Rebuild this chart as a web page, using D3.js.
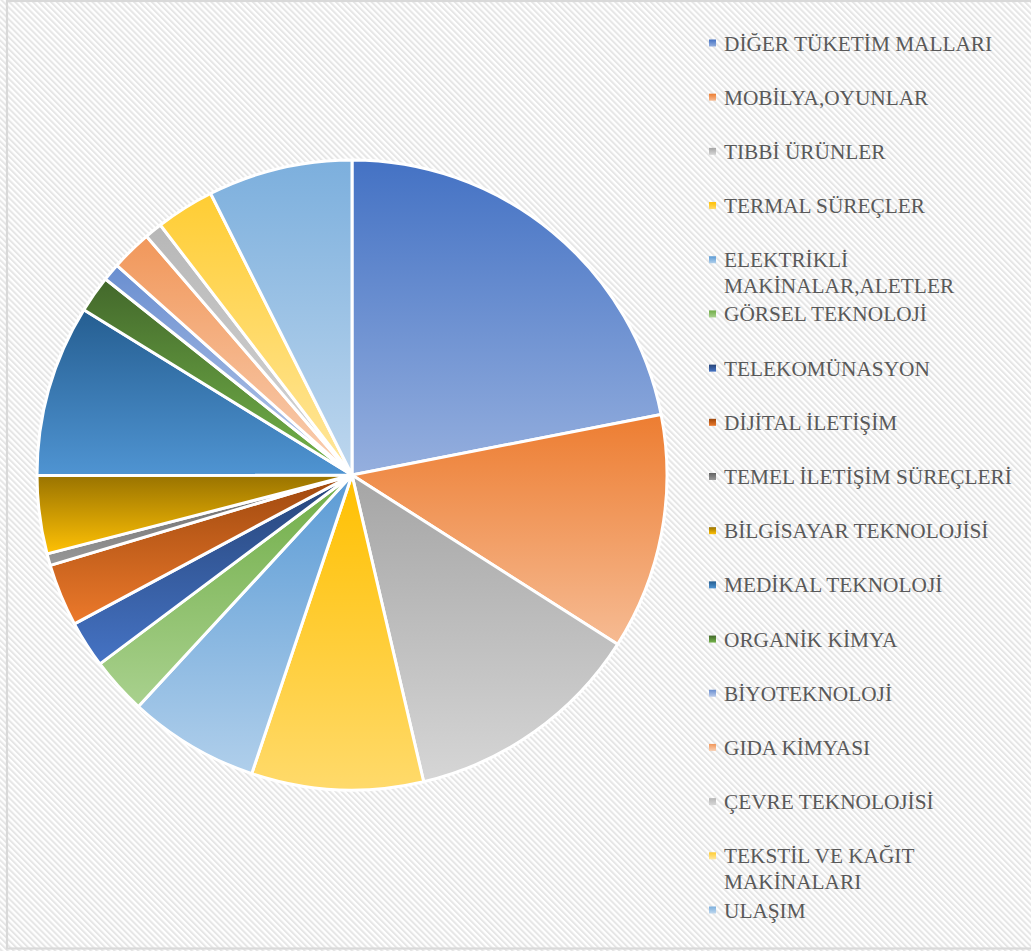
<!DOCTYPE html>
<html>
<head>
<meta charset="utf-8">
<script src="https://cdn.jsdelivr.net/npm/d3@7"></script>
<style>
  html, body { margin: 0; padding: 0; background: #ffffff; }
  svg { display: block; }
</style>
</head>
<body>
<script>
// ---- data ----
const categories = [
  "DİĞER TÜKETİM MALLARI",
  "MOBİLYA,OYUNLAR",
  "TIBBİ ÜRÜNLER",
  "TERMAL SÜREÇLER",
  "ELEKTRİKLİ MAKİNALAR,ALETLER",
  "GÖRSEL TEKNOLOJİ",
  "TELEKOMÜNASYON",
  "DİJİTAL İLETİŞİM",
  "TEMEL İLETİŞİM SÜREÇLERİ",
  "BİLGİSAYAR TEKNOLOJİSİ",
  "MEDİKAL TEKNOLOJİ",
  "ORGANİK KİMYA",
  "BİYOTEKNOLOJİ",
  "GIDA KİMYASI",
  "ÇEVRE TEKNOLOJİSİ",
  "TEKSTİL VE KAĞIT MAKİNALARI",
  "ULAŞIM"
];
const legendLines = [
  ["DİĞER TÜKETİM MALLARI"],
  ["MOBİLYA,OYUNLAR"],
  ["TIBBİ ÜRÜNLER"],
  ["TERMAL SÜREÇLER"],
  ["ELEKTRİKLİ", "MAKİNALAR,ALETLER"],
  ["GÖRSEL TEKNOLOJİ"],
  ["TELEKOMÜNASYON"],
  ["DİJİTAL İLETİŞİM"],
  ["TEMEL İLETİŞİM SÜREÇLERİ"],
  ["BİLGİSAYAR TEKNOLOJİSİ"],
  ["MEDİKAL TEKNOLOJİ"],
  ["ORGANİK KİMYA"],
  ["BİYOTEKNOLOJİ"],
  ["GIDA KİMYASI"],
  ["ÇEVRE TEKNOLOJİSİ"],
  ["TEKSTİL VE KAĞIT", "MAKİNALARI"],
  ["ULAŞIM"]
];
const values = [21.9, 12.1, 12.3, 8.8, 6.7, 2.9, 2.4, 3.2, 0.6, 4.0, 8.8, 1.9, 0.9, 2.1, 0.9, 3.0, 7.4];
const colors = [
  "#4472C4", "#ED7D31", "#A5A5A5", "#FFC000", "#5B9BD5", "#70AD47",
  "#264478", "#9E480E", "#636363", "#997300", "#255E91", "#43682B",
  "#698ED0", "#F1975A", "#B7B7B7", "#FFCD33", "#7CAFDD"
];

// ---- layout ----
const W = 1031, H = 951;
const cx = 352, cy = 475, R = 315;

const svg = d3.select("body").append("svg").attr("width", W).attr("height", H);
const defs = svg.append("defs");

// background diagonal pattern
const pat = defs.append("pattern")
  .attr("id", "bgpat")
  .attr("patternUnits", "userSpaceOnUse")
  .attr("width", 4.2).attr("height", 4.2)
  .attr("patternTransform", "rotate(-45)");
pat.append("rect").attr("width", 4.2).attr("height", 4.2).attr("fill", "#ffffff");
pat.append("rect").attr("width", 2).attr("height", 4.2).attr("fill", "#E6E6E6");

svg.append("rect").attr("x", 0).attr("y", 0).attr("width", W).attr("height", H).attr("fill", "url(#bgpat)");
svg.append("rect")
  .attr("x", 7).attr("y", 1).attr("width", W + 10).attr("height", 947.5)
  .attr("fill", "none").attr("stroke", "#D9D9D9").attr("stroke-width", 2.2);

// gradients
colors.forEach((c, i) => {
  const g = defs.append("linearGradient")
    .attr("id", "grad" + i)
    .attr("x1", 0).attr("y1", 0).attr("x2", 0).attr("y2", 1);
  const top = d3.hsl(c);
  const bot = d3.hsl(c);
  bot.l = Math.min(0.84, bot.l + 0.21);
  g.append("stop").attr("offset", "0%").attr("stop-color", top.formatHex());
  g.append("stop").attr("offset", "100%").attr("stop-color", bot.formatHex());
});

const pie = d3.pie().sort(null).value(d => d.v);
const arc = d3.arc().innerRadius(0).outerRadius(R);
const data = values.map((v, i) => ({ v, i, name: categories[i] }));

svg.append("g")
  .attr("transform", `translate(${cx},${cy})`)
  .selectAll("path")
  .data(pie(data))
  .join("path")
  .attr("d", arc)
  .attr("fill", d => `url(#grad${d.data.i})`)
  .attr("stroke", "#ffffff")
  .attr("stroke-width", 3)
  .attr("stroke-linejoin", "round");

// legend
const legendY = d3.scalePoint().domain(d3.range(categories.length)).range([43, 910]);
const lg = svg.append("g");
const items = lg.selectAll("g").data(data).join("g")
  .attr("transform", d => `translate(0,${legendY(d.i)})`);
items.append("rect")
  .attr("x", 709).attr("y", -3.5).attr("width", 7).attr("height", 7)
  .attr("fill", d => `url(#grad${d.i})`);
items.append("text")
  .attr("x", 724)
  .attr("y", 7.5)
  .attr("font-family", "'Liberation Serif', 'Times New Roman', serif")
  .attr("font-size", 21.3)
  .attr("fill", "#595959")
  .selectAll("tspan")
  .data(d => legendLines[d.i])
  .join("tspan")
  .attr("x", 724)
  .attr("dy", (t, j) => j === 0 ? 0 : 26)
  .text(t => t);
</script>
</body>
</html>
